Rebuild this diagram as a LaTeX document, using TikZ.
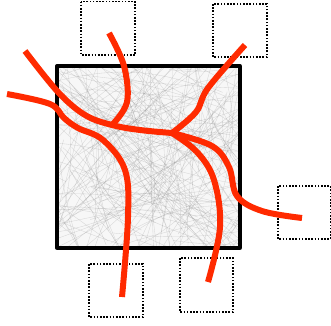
\documentclass[tikz,border=0pt]{standalone}
\usepackage{xcolor}
\usepackage{tikz}
\usetikzlibrary{calc}
\definecolor{fred}{HTML}{FF2A00}
\definecolor{fgray}{HTML}{8C8C8C}
\tikzset{
  tissue/.style={draw=black, line width=3.3pt, line join=round},
  fiber/.style={draw=fgray, line width=0.35pt, opacity=0.3},
  target/.style={draw=black, line width=1.7pt, dash pattern=on 1.6pt off 1.6pt},
  axon/.style={draw=fred, line width=6pt, line cap=butt, line join=round},
}

\begin{document}
\begin{tikzpicture}[x=1pt, y=-1pt]
  \useasboundingbox (0,0) rectangle (331,325);

  % background fibres
  \begin{scope}
    \clip (57,66) rectangle (240,248);
    \fill[gray!6] (57,66) rectangle (240,248);
    \pgfmathsetseed{42}
    \foreach \i in {1,...,260}{
      \pgfmathsetmacro\xa{20+260*rnd}
      \pgfmathsetmacro\ya{30+250*rnd}
      \pgfmathsetmacro\xb{20+260*rnd}
      \pgfmathsetmacro\yb{30+250*rnd}
      \pgfmathsetmacro\bnd{-20+40*rnd}
      \draw[fiber] (\xa,\ya) to[bend left=\bnd] (\xb,\yb);
    }
  \end{scope}
  \draw[tissue] (57,66) rectangle (240,248);

  % dotted targets
  \draw[target] (81,1.5) rectangle (135,55);
  \draw[target] (213,4) rectangle (267,57);
  \draw[target] (278,186) rectangle (330.5,239);
  \draw[target] (89,264) rectangle (143,317);
  \draw[target] (180,258) rectangle (233,312);

  \coordinate (ja) at (112,125);
  \coordinate (jb) at (172,133);

  % red tracts
  \draw[axon] plot[smooth, tension=0.6] coordinates
    {(25,51) (58,92) (85,115) (ja) (140,130) (jb)};
  \draw[axon] plot[smooth, tension=0.6] coordinates
    {(109,33) (124,66) (127,102) (ja)};
  \draw[axon] plot[smooth, tension=0.6] coordinates
    {(jb) (196,112) (208,88) (245,45)};
  \draw[axon] plot[smooth, tension=0.6] coordinates
    {(jb) (212,146) (229,167) (237,196) (262,211) (302,218)};
  \draw[axon] plot[smooth, tension=0.6] coordinates
    {(jb) (197,152) (214,180) (220,227) (208,282)};
  \draw[axon] plot[smooth, tension=0.6] coordinates
    {(7,94) (50,104) (64,118) (78,128) (103,140) (125,170) (128,217) (122,297)};
\end{tikzpicture}
\end{document}
